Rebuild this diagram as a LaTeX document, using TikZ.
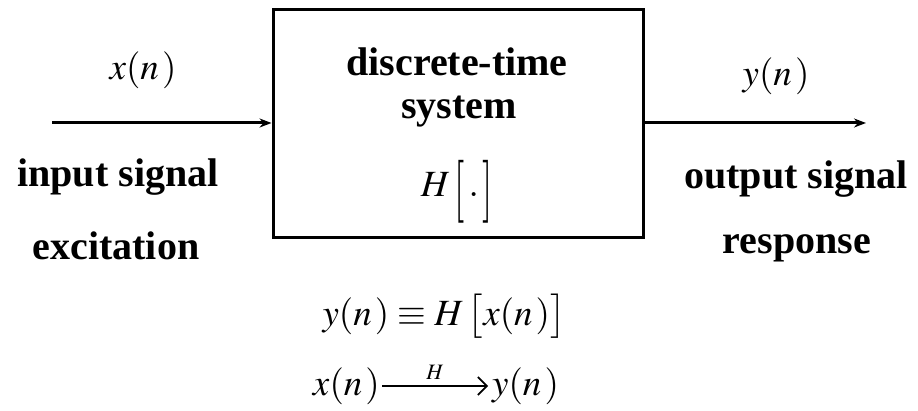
\documentclass[tikz,border=0pt]{standalone}
\usepackage{amsmath}
\usepackage{mathptmx}
\usepackage[no-math]{fontspec}
\setmainfont{Liberation Serif}
\usetikzlibrary{arrows.meta}
\newcommand{\pn}[1]{(#1\mkern1.5mu)}
\newcommand{\tallbr}[1]{\raisebox{-0.3em}{\scalebox{1}[1.7]{$#1$}}}
\begin{document}
\begin{tikzpicture}[x=1pt,y=-1pt,
  lbl/.style={font=\bfseries\fontsize{40}{44}\selectfont, inner sep=0pt},
  mth/.style={font=\fontsize{37}{40}\selectfont, inner sep=0pt},
  sig/.style={line width=3pt, -{Stealth[length=12pt,width=9pt]}},
  maparrow/.style={line width=1.6pt, -{Straight Barb[length=9pt,width=18pt,line width=1.6pt]}}]
\useasboundingbox (0,0) rectangle (918,411);
\node[draw, line width=3pt, minimum width=370pt, minimum height=228pt, inner sep=0pt] (sys) at (458,124) {};
\node[lbl] (dt) at (457,62) {discrete-time};
\node[lbl] (sy) at (459,112) {system};
\node[mth] (H) at (457,192) {$H\,\tallbr{[}\,.\,\tallbr{]}$};
\coordinate (in) at (52,123);
\coordinate (out) at (866,123);
\draw[sig] (in) -- (sys.west |- in);
\draw[sig] (sys.east |- out) -- (out);
\node[mth] (xn) at (143,70) {$x\pn{n}$};
\node[mth] (yn) at (776,76) {$y\pn{n}$};
\node[lbl] (is) at (118,177) {input signal};
\node[lbl] (ex) at (116,246) {excitation};
\node[lbl] (os) at (796,179) {output signal};
\node[lbl] (rs) at (797,248) {response};
\node[mth] (eq) at (444,316) {$y\pn{n}\equiv H\,\bigl[x\pn{n}\bigr]$};
\node[mth, anchor=east] (mx) at (380,386) {$x\pn{n}$};
\node[mth, anchor=west] (my) at (492,386) {$y\pn{n}$};
\draw[maparrow] (mx.east) ++(2pt,0) coordinate (ma) -- ([xshift=-4pt]my.west |- ma)
  node[midway, above=6pt, font=\fontsize{22}{24}\selectfont, inner sep=0pt] (hl) {$H$};
\end{tikzpicture}
\end{document}
